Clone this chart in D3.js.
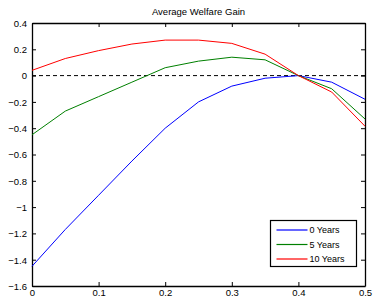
<!DOCTYPE html>
<html>
<head>
<meta charset="utf-8">
<script src="https://cdn.jsdelivr.net/npm/d3@7.9.0/dist/d3.min.js"></script>
<style>
  body { margin: 0; background: #fff; }
  svg { display: block; font-family: "Liberation Sans", Arial, sans-serif; }
</style>
</head>
<body>
<div id="chart"></div>
<script>
// data
const xs = [0, 0.05, 0.1, 0.15, 0.2, 0.25, 0.3, 0.35, 0.4, 0.45, 0.5];
const years0 = [-1.45, -1.17, -0.91, -0.65, -0.40, -0.20, -0.08, -0.02, 0, -0.05, -0.18];
const years5 = [-0.45, -0.27, -0.16, -0.05, 0.06, 0.11, 0.14, 0.12, 0, -0.10, -0.33];
const years10 = [0.04, 0.13, 0.19, 0.24, 0.27, 0.27, 0.245, 0.163, 0, -0.125, -0.385];
const seriesNames = ['0 Years', '5 Years', '10 Years'];
const colors = ['#0000ff', '#008000', '#ff0000'];
const xTicks = [0, 0.1, 0.2, 0.3, 0.4, 0.5];
const yTicks = [-1.6, -1.4, -1.2, -1, -0.8, -0.6, -0.4, -0.2, 0, 0.2, 0.4];

const width = 373, height = 299;
const margin = { top: 23, right: 8, bottom: 13, left: 32 };

const svg = d3.select('#chart').append('svg')
  .attr('width', width).attr('height', height);

const x = d3.scaleLinear().domain([0, 0.5]).range([margin.left, width - margin.right]);
const y = d3.scaleLinear().domain([-1.6, 0.4]).range([height - margin.bottom, margin.top]);

// title
svg.append('text')
  .attr('x', (margin.left + width - margin.right) / 2)
  .attr('y', 15)
  .attr('text-anchor', 'middle')
  .attr('font-size', 9.5)
  .text('Average Welfare Gain');

// axes with inward ticks (all four sides)
const fmt = d => d3.format('~g')(d);
const tickLen = 4;
const axB = svg.append('g').attr('transform', `translate(0,${y(-1.6)})`)
  .call(d3.axisBottom(x).tickValues(xTicks).tickFormat(fmt).tickSizeInner(-tickLen).tickSizeOuter(0).tickPadding(3));
const axT = svg.append('g').attr('transform', `translate(0,${y(0.4)})`)
  .call(d3.axisTop(x).tickValues(xTicks).tickFormat('').tickSizeInner(-tickLen).tickSizeOuter(0));
const axL = svg.append('g').attr('transform', `translate(${x(0)},0)`)
  .call(d3.axisLeft(y).tickValues(yTicks).tickFormat(fmt).tickSizeInner(-tickLen).tickSizeOuter(0).tickPadding(5));
const axR = svg.append('g').attr('transform', `translate(${x(0.5)},0)`)
  .call(d3.axisRight(y).tickValues(yTicks).tickFormat('').tickSizeInner(-tickLen).tickSizeOuter(0));

[axB, axT, axL, axR].forEach(g => {
  g.select('.domain').attr('stroke', '#000').attr('stroke-width', 1.3);
  g.selectAll('.tick line').attr('stroke', '#000');
  g.selectAll('.tick text').attr('font-size', 9.5).attr('fill', '#000')
    .attr('font-family', '"Liberation Sans", Arial, sans-serif');
});
axL.selectAll('.tick text').attr('dy', '0.35em');
axB.selectAll('.tick text').attr('dy', '0.71em');

// dashed zero line
svg.append('line')
  .attr('x1', x(0)).attr('x2', x(0.5))
  .attr('y1', y(0)).attr('y2', y(0))
  .attr('stroke', '#000').attr('stroke-dasharray', '4,3');

// series lines
const series = [years0, years5, years10];
const line = d3.line().x((d, i) => x(xs[i])).y(d => y(d));
svg.append('g').selectAll('path')
  .data(series)
  .join('path')
  .attr('d', d => line(d))
  .attr('fill', 'none')
  .attr('stroke', (d, i) => colors[i])
  .attr('stroke-width', 1);

// legend
const lg = svg.append('g').attr('transform', 'translate(270.5,220.5)');
lg.append('rect').attr('width', 86).attr('height', 46)
  .attr('fill', '#fff').attr('stroke', '#000').attr('stroke-width', 1.2);
seriesNames.forEach((name, i) => {
  const ly = 9.5 + i * 14.5;
  lg.append('line').attr('x1', 6).attr('x2', 37).attr('y1', ly).attr('y2', ly)
    .attr('stroke', colors[i]).attr('stroke-width', 1.2);
  lg.append('text').attr('x', 39).attr('y', ly).attr('dy', '0.35em')
    .attr('font-size', 9).text(name);
});
</script>
</body>
</html>
